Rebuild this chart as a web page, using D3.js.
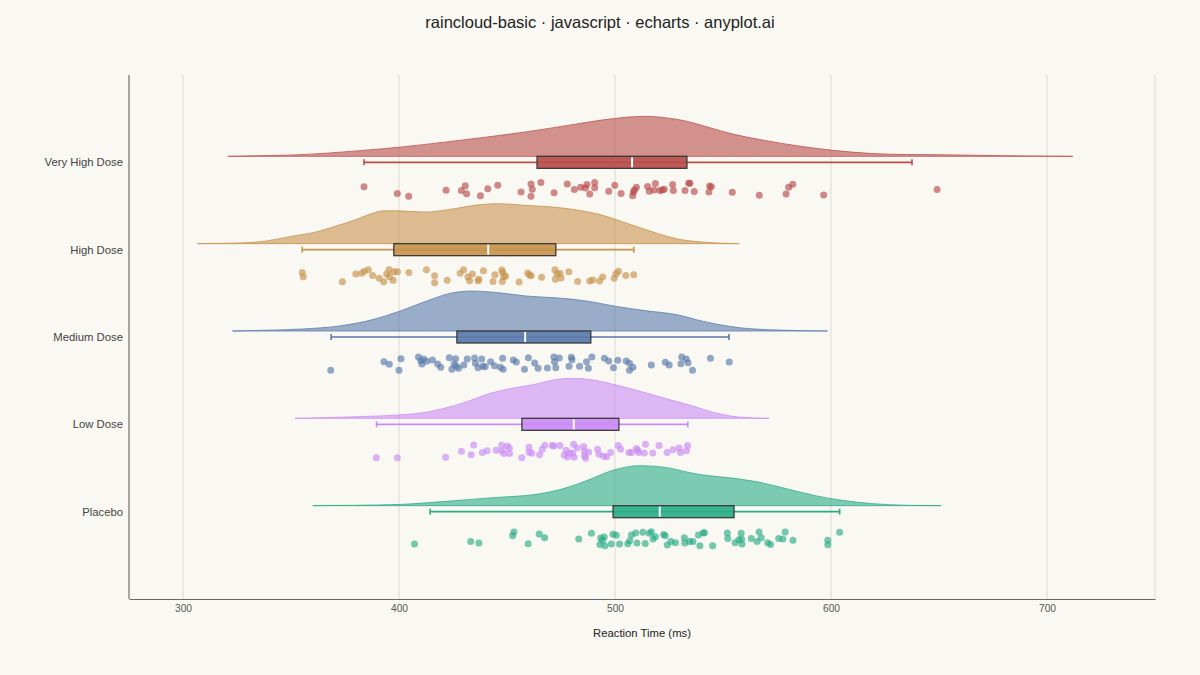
<!DOCTYPE html>
<html>
<head>
<meta charset="utf-8">
<script src="https://cdn.jsdelivr.net/npm/d3@7"></script>
<style>
html, body { margin: 0; padding: 0; background: #faf8f2; }
svg { display: block; font-family: "Liberation Sans", Arial, sans-serif; }
</style>
</head>
<body>
<svg id="chart" width="1200" height="675"></svg>
<script>
// ---------------- data ----------------
const categories = ["Placebo", "Low Dose", "Medium Dose", "High Dose", "Very High Dose"];
const groupColors = ["#2aac87", "#c98af5", "#5879ab", "#c6924c", "#b94c49"];
const xTicks = [300, 400, 500, 600, 700];
const titleText = "raincloud-basic · javascript · echarts · anyplot.ai";
const xAxisTitle = "Reaction Time (ms)";

// box stats: [whiskerLow, Q1, median, Q3, whiskerHigh]
const placeboBox = [414.4, 499.1, 520.7, 555.1, 604.0];
const lowBox = [389.6, 456.9, 480.9, 501.8, 533.7];
const mediumBox = [368.6, 426.8, 458.4, 488.8, 552.8];
const highBox = [355.2, 397.6, 441.3, 472.6, 508.7];
const veryHighBox = [383.8, 463.9, 507.9, 533.3, 637.5];

// relative density curves: [reaction time, density / max]
const placeboDensity = [[360.1,0],[380,0.01],[400,0.03],[424.8,0.12],[443.6,0.2],[464.4,0.29],[475.8,0.42],[487.1,0.63],[500,0.9],[511.5,1.0],[522.9,0.96],[538,0.79],[556.9,0.67],[566.4,0.59],[579.6,0.42],[592.8,0.25],[604.2,0.14],[619.3,0.05],[635,0.01],[651,0]];
const lowDensity = [[351.9,0],[380,0.04],[400,0.085],[411,0.14],[420.2,0.24],[431.1,0.41],[441.9,0.62],[451.2,0.74],[462,0.84],[472.8,0.97],[480.5,1.0],[488.3,0.97],[500,0.84],[511.4,0.68],[523.8,0.49],[534.6,0.33],[547,0.13],[557.8,0.03],[571.3,0]];
const mediumDensity = [[322.9,0],[340,0.02],[355.1,0.05],[373.1,0.13],[387.5,0.28],[400,0.49],[412.8,0.75],[423.6,0.94],[433.6,1.0],[445.3,0.96],[459.7,0.87],[472.4,0.83],[486.8,0.75],[500,0.62],[513.9,0.51],[528.3,0.41],[541,0.24],[553.6,0.11],[571.7,0.03],[598.4,0]];
const highDensity = [[306.7,0],[320,0.01],[334.2,0.04],[351.9,0.2],[360.7,0.28],[369.6,0.42],[378.4,0.57],[387.3,0.75],[392.6,0.82],[400,0.82],[412,0.79],[422.7,0.85],[436.8,0.97],[445.7,1.0],[458,0.96],[475.8,0.89],[493.5,0.72],[507.6,0.47],[520,0.25],[528.8,0.12],[543,0.03],[557.5,0]];
const veryHighDensity = [[320.8,0],[340,0.02],[354,0.04],[379,0.13],[400.5,0.23],[425,0.38],[456,0.59],[479,0.78],[493,0.9],[502,0.96],[514,1.0],[524,0.96],[533,0.88],[543,0.73],[555,0.55],[567,0.42],[586,0.25],[601,0.15],[619,0.07],[635,0.045],[650,0.04],[665,0.028],[680,0.015],[712,0]];

// raw observations: [reaction time, vertical jitter 0..1]
const placeboPoints = [[407.2,.88],[433.2,.71],[437.0,.81],[452.6,.29],[453.2,.02],[459.8,.86],[464.9,.16],[467.4,.43],[483.2,.52],[489.1,.12],[493.0,.91],[493.4,.45],[494.2,.62],[495.0,.38],[495.3,1],[498.3,.88],[499.1,.19],[500.6,.26],[502.1,.88],[505.9,.86],[506.8,.64],[507.6,.24],[509.6,.09],[510.2,.81],[512.9,.05],[514.0,.84],[515.9,.12],[516.8,0],[517.6,.52],[518.7,.36],[522.5,.21],[523.3,.29],[524.2,.95],[525.9,.71],[528.0,.79],[532.1,.43],[532.3,.81],[534.6,.71],[536.1,.71],[538.6,.24],[539.3,1],[540.8,.09],[541.4,.07],[545.2,1],[552.0,.09],[552.2,.48],[555.6,.79],[557.3,.57],[558.4,.12],[558.6,.55],[558.8,.88],[563.1,.48],[565.8,.71],[566.7,.02],[567.7,.43],[570.7,.79],[572.0,.91],[575.8,.48],[577.7,.52],[578.8,.02],[582.4,.62],[598.5,.62],[598.5,.93],[604.0,.05]];
const lowPoints = [[389.5,.95],[399.2,.95],[421.6,.93],[428.9,.5],[433.4,.74],[434.6,.05],[438.6,.59],[440.8,.45],[445.0,.43],[447.5,.07],[447.6,.48],[448.6,.66],[450.0,.12],[451.1,.26],[451.2,.66],[456.9,.95],[460.2,.21],[460.2,.57],[461.5,.64],[465.1,.74],[466.3,.36],[467.5,.07],[470.9,.09],[471.7,.12],[474.5,.09],[476.5,.76],[477.4,.43],[478.0,.91],[479.0,.62],[480.4,.64],[480.8,0],[481.1,.93],[482.4,.26],[485.5,.16],[485.8,.48],[485.9,.81],[486.4,1],[487.8,.57],[491.9,.36],[492.6,.71],[494.7,.86],[496.1,.88],[498.0,.59],[501.5,.09],[502.6,.36],[506.5,.59],[507.7,.59],[509.9,.29],[510.5,.43],[511.0,.59],[513.6,.62],[514.1,0],[517.5,.62],[520.4,.09],[524.1,.59],[526.8,.38],[529.7,.26],[530.3,.59],[533.1,.45],[533.6,.09]];
const mediumPoints = [[368.4,.95],[393.0,.34],[395.5,.52],[400.0,.95],[400.9,.12],[409.0,0],[410.1,.26],[410.6,.5],[411.4,.14],[412.8,.31],[415.5,.21],[417.9,.5],[419.3,.74],[423.3,.05],[424.5,.88],[425.5,.5],[426.2,.12],[426.5,.66],[427.6,.81],[430.0,.57],[431.6,.14],[435.0,.07],[435.4,.45],[436.6,.76],[438.3,.14],[438.8,.66],[439.9,.69],[442.4,.34],[444.2,.62],[446.9,.74],[448.0,.09],[448.2,.88],[452.9,.21],[454.3,.36],[458.1,.88],[459.9,.05],[462.8,.43],[464.4,.81],[468.7,.79],[471.7,0],[472.0,.36],[472.6,.76],[474.2,.07],[478.7,.66],[479.8,.02],[480.1,.19],[483.6,.66],[486.8,.34],[487.7,.81],[489.3,0],[495.1,.09],[497.1,.29],[499.3,.76],[501.3,.24],[505.2,.29],[506.7,.45],[506.7,.95],[508.3,.74],[516.8,.57],[523.3,.38],[525.1,.57],[530.9,0],[530.5,.48],[533.0,.14],[533.8,.41],[535.9,.95],[544.2,.09],[552.9,.36]];
const highPoints = [[355.2,.21],[355.7,.5],[373.8,.86],[380.0,.31],[382.7,.26],[383.9,.12],[385.8,0],[387.8,.41],[390.8,.62],[392.9,.86],[394.3,.31],[395.4,0],[395.6,.5],[397.3,.76],[397.7,.14],[399.3,.14],[404.6,.21],[412.7,0],[416.5,.43],[416.5,.93],[422.3,.76],[428.3,.26],[429.9,0],[431.9,.5],[432.7,.79],[434.0,.31],[436.6,.79],[437.0,.69],[439.1,.07],[443.5,.84],[444.4,.36],[447.6,.02],[447.8,.84],[448.0,.19],[448.5,.5],[449.4,.45],[455.6,.88],[459.6,.24],[460.4,.38],[461.2,.43],[466.0,.55],[472.2,0],[472.4,.69],[473.1,.29],[474.5,.26],[475.0,.59],[478.6,.14],[482.7,.84],[488.3,.81],[489.7,.74],[492.9,.81],[494.3,.52],[499.6,.62],[500.5,.29],[501.6,.12],[505.0,.41],[508.7,.36]];
const veryHighPoints = [[383.8,.31],[399.2,.79],[404.5,1],[421.8,.57],[428.9,.59],[430.7,.24],[431.3,.81],[437.7,.95],[441.1,.45],[445.7,.21],[456.5,.69],[461.1,.12],[461.7,.5],[461.1,1],[465.7,.02],[471.8,.74],[477.9,.12],[481.2,.52],[484.1,.36],[486.3,.41],[487.0,.16],[488.3,.84],[490.6,.02],[490.6,.38],[497.1,.64],[499.9,.21],[502.8,.79],[508.2,.95],[508.5,.69],[509.0,.55],[509.9,.36],[515.1,.29],[515.9,.64],[518.1,.55],[518.7,.09],[520.8,.59],[521.9,.55],[522.8,.5],[526.7,.16],[527.0,.59],[532.4,.59],[534.1,.07],[534.7,.07],[536.7,.66],[543.5,.69],[543.8,.26],[544.6,.31],[554.3,.71],[566.8,.93],[579.2,.84],[580.4,.36],[582.3,.14],[596.6,.91],[649.1,.52]];

const boxes = [placeboBox, lowBox, mediumBox, highBox, veryHighBox];
const densities = [placeboDensity, lowDensity, mediumDensity, highDensity, veryHighDensity];
const pointSets = [placeboPoints, lowPoints, mediumPoints, highPoints, veryHighPoints];

// ---------------- layout ----------------
const W = 1200, H = 675;
const plot = { left: 129, right: 1155, top: 75, bottom: 599 };
const svg = d3.select("#chart");
svg.append("rect").attr("width", W).attr("height", H).attr("fill", "#faf8f2");

const x = d3.scaleLinear().domain([275, 750]).range([plot.left, plot.right]);
const y = d3.scaleLinear().domain([-1, 5]).range([plot.bottom, plot.top]);
const boxHalf = 6;
const densH = d3.scaleLinear().domain([0, 1]).range([0, 40]);
const jitter = d3.scaleLinear().domain([0, 1]).range([20, 34]);

// title
svg.append("text").attr("x", W / 2).attr("y", 28).attr("text-anchor", "middle")
  .attr("font-size", 16.5).attr("fill", "#222").text(titleText);

// grid
const gridVals = xTicks.concat([750]);
svg.append("g").selectAll("line").data(gridVals).join("line")
  .attr("x1", d => x(d)).attr("x2", d => x(d))
  .attr("y1", plot.top).attr("y2", plot.bottom)
  .attr("stroke", "#dedad2").attr("stroke-width", 1);

const g = svg.append("g");

categories.forEach((cat, i) => {
  const c = groupColors[i];
  const cy = y(i);
  const base = cy - boxHalf;
  // density cloud
  const area = d3.area()
    .x(d => x(d[0]))
    .y0(base)
    .y1(d => base - densH(d[1]))
    .curve(d3.curveMonotoneX);
  g.append("path").datum(densities[i]).attr("d", area)
    .attr("fill", c).attr("fill-opacity", 0.6)
    .attr("stroke", c).attr("stroke-opacity", 0.75).attr("stroke-width", 1);

  // whiskers
  const b = boxes[i];
  g.append("line").attr("x1", x(b[0])).attr("x2", x(b[4])).attr("y1", cy).attr("y2", cy)
    .attr("stroke", c).attr("stroke-width", 1.6);
  [b[0], b[4]].forEach(v => {
    g.append("line").attr("x1", x(v)).attr("x2", x(v)).attr("y1", cy - 3).attr("y2", cy + 3)
      .attr("stroke", c).attr("stroke-width", 1.6);
  });
  // box
  g.append("rect").attr("x", x(b[1])).attr("y", cy - boxHalf)
    .attr("width", x(b[3]) - x(b[1])).attr("height", boxHalf * 2)
    .attr("fill", c).attr("fill-opacity", 0.92)
    .attr("stroke", "#3a3a3a").attr("stroke-width", 1.3);
  g.append("line").attr("x1", x(b[2])).attr("x2", x(b[2]))
    .attr("y1", cy - boxHalf + 1).attr("y2", cy + boxHalf - 1)
    .attr("stroke", "#ffffff").attr("stroke-width", 2);

  // rain points
  g.append("g").selectAll("circle").data(pointSets[i]).join("circle")
    .attr("cx", d => x(d[0])).attr("cy", d => cy + jitter(d[1]))
    .attr("r", 3.5).attr("fill", c).attr("fill-opacity", 0.65);

  // category label
  svg.append("text").attr("x", plot.left - 6).attr("y", cy).attr("dy", "0.35em")
    .attr("text-anchor", "end").attr("font-size", 11.3).attr("fill", "#444").text(cat);
});

// axes
svg.append("line").attr("x1", plot.left).attr("x2", plot.left).attr("y1", plot.top).attr("y2", plot.bottom)
  .attr("stroke", "#555").attr("stroke-width", 1);
const xAxis = d3.axisBottom(x).tickValues(xTicks).tickSize(0).tickPadding(6);
const xa = svg.append("g").attr("transform", `translate(0,${plot.bottom})`).call(xAxis);
xa.select(".domain").attr("stroke", "#666").attr("stroke-width", 1.2);
xa.selectAll("text").attr("font-size", 10.2).attr("fill", "#555")
  .attr("font-family", "'Liberation Sans', Arial, sans-serif");

svg.append("text").attr("x", (plot.left + plot.right) / 2).attr("y", 637)
  .attr("text-anchor", "middle").attr("font-size", 11.3).attr("fill", "#222").text(xAxisTitle);
</script>
</body>
</html>
